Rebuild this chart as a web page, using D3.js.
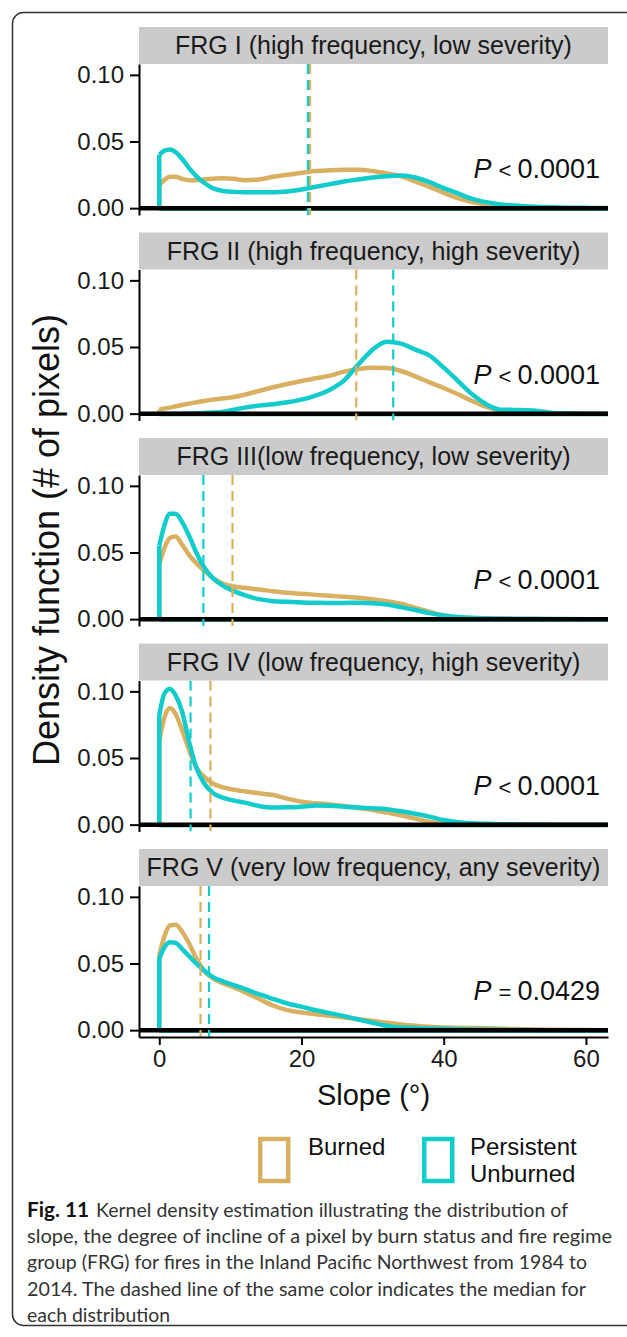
<!DOCTYPE html>
<html><head><meta charset="utf-8">
<script src="https://cdn.jsdelivr.net/npm/d3@7"></script>
<style>body{margin:0;background:#fff}svg{display:block}
.sans{font-family:"Liberation Sans","Arimo",Arial,Helvetica,sans-serif}
.cap{font-family:Lato,"Open Sans",sans-serif}</style>
</head><body><svg id="c" width="627" height="1337"></svg>
<script>
// ---------- data ----------
const slopeGrid = [0, 0.7, 1.5, 2.3, 3.2, 4.2, 5.2, 6.3, 7.5, 9, 10.5, 12, 14, 16, 18, 20, 22, 24, 26, 28, 30, 32, 34, 36, 38, 40, 42, 44, 46, 48, 50, 53, 56, 60, 63];
const panelTitles = ["FRG I (high frequency, low severity)", "FRG II (high frequency, high severity)", "FRG III(low frequency, low severity)", "FRG IV (low frequency, high severity)", "FRG V (very low frequency, any severity)"];
const burned1 = [0.0175,0.021,0.0235,0.0235,0.022,0.021,0.021,0.0215,0.022,0.0225,0.022,0.021,0.0215,0.0235,0.025,0.0265,0.0278,0.0285,0.0288,0.0288,0.0278,0.026,0.0238,0.020,0.016,0.0115,0.0075,0.0045,0.0025,0.0012,0.0006,0.0002,0.0001,0,0];
const unburned1 = [0.040,0.043,0.044,0.042,0.037,0.030,0.024,0.019,0.015,0.0128,0.0122,0.012,0.012,0.012,0.0125,0.014,0.016,0.018,0.020,0.0215,0.023,0.024,0.0245,0.023,0.0195,0.015,0.011,0.007,0.0045,0.0028,0.0019,0.001,0.0005,0.0002,0.0001];
const burned2 = [0.003,0.0038,0.0045,0.0055,0.0065,0.0075,0.0085,0.0095,0.0105,0.0115,0.0125,0.0142,0.017,0.0198,0.0222,0.0245,0.0265,0.0285,0.0315,0.0335,0.0345,0.0342,0.032,0.028,0.0235,0.0192,0.0145,0.0095,0.005,0.0022,0.0008,0.0002,0.0001,0,0];
const unburned2 = [0,0,0,0,0,0.0001,0.0002,0.0004,0.0008,0.0015,0.003,0.0045,0.006,0.007,0.0085,0.0105,0.0135,0.018,0.025,0.037,0.048,0.054,0.0525,0.048,0.0435,0.0345,0.0245,0.0145,0.007,0.003,0.0028,0.0022,0.0003,0,0];
const burned3 = [0.041,0.053,0.061,0.062,0.056,0.048,0.042,0.0365,0.031,0.0265,0.0245,0.0235,0.0222,0.021,0.0198,0.019,0.0182,0.0175,0.0168,0.016,0.015,0.0135,0.0115,0.0085,0.0055,0.0028,0.0012,0.0005,0.0002,0.0001,0,0,0,0,0];
const unburned3 = [0.055,0.07,0.079,0.079,0.073,0.0625,0.050,0.039,0.031,0.025,0.021,0.018,0.015,0.0135,0.013,0.0125,0.0123,0.0122,0.0122,0.0123,0.012,0.011,0.009,0.0068,0.0045,0.0028,0.0017,0.001,0.0007,0.0005,0.0003,0.0002,0.0001,0,0];
const burned4 = [0.063,0.08,0.0875,0.083,0.071,0.056,0.043,0.036,0.031,0.028,0.0262,0.025,0.0235,0.0222,0.0195,0.0172,0.016,0.0152,0.014,0.0125,0.011,0.009,0.007,0.0045,0.0022,0.0007,0.0002,0.0001,0,0,0,0,0,0,0];
const unburned4 = [0.082,0.098,0.102,0.097,0.085,0.062,0.043,0.031,0.024,0.020,0.018,0.0165,0.014,0.0128,0.013,0.0135,0.0143,0.0142,0.0135,0.0128,0.0122,0.0115,0.010,0.0082,0.006,0.0035,0.0018,0.001,0.0006,0.0003,0.0002,0.0001,0,0,0];
const burned5 = [0.056,0.07,0.0785,0.079,0.074,0.065,0.054,0.0445,0.039,0.035,0.032,0.0285,0.0235,0.0185,0.015,0.0133,0.012,0.0108,0.0095,0.0082,0.0069,0.0056,0.0043,0.0033,0.0025,0.002,0.0018,0.0016,0.0014,0.0011,0.0008,0.0005,0.0003,0.0001,0];
const unburned5 = [0.0535,0.062,0.066,0.0655,0.061,0.0555,0.050,0.0448,0.040,0.0365,0.0338,0.031,0.027,0.0235,0.020,0.0176,0.015,0.0128,0.0105,0.008,0.0055,0.0032,0.002,0.0016,0.0012,0.001,0.0007,0.0005,0.0003,0.0002,0.0001,0,0,0,0];
const burnedMedians = [21.2, 27.7, 10.3, 7.2, 5.8];
const unburnedMedians = [20.9, 32.9, 6.2, 4.4, 7.0];
const pOperators = ["<", "<", "<", "<", "="];
const pValues = ["0.0001", "0.0001", "0.0001", "0.0001", "0.0429"];
const yTickValues = [0, 0.05, 0.10];
const xTickValues = [0, 20, 40, 60];
const seriesNames = ["Burned", "Persistent Unburned"];
const captionLines = [
  "Kernel density estimation illustrating the distribution of",
  "slope, the degree of incline of a pixel by burn status and fire regime",
  "group (FRG) for fires in the Inland Pacific Northwest from 1984 to",
  "2014. The dashed line of the same color indicates the median for",
  "each distribution"
];

const burnedSeries = [burned1, burned2, burned3, burned4, burned5];
const unburnedSeries = [unburned1, unburned2, unburned3, unburned4, unburned5];

// ---------- styling / layout ----------
const TAN = "#D9B062", CYAN = "#12CBCB";
const L = 139, R = 608, stripTop0 = 27, step = 205.5, stripH = 37, panelH = 151;

const svg = d3.select("#c");
svg.append("rect").attr("x", 12.5).attr("y", 12.5).attr("width", 660).attr("height", 1313)
  .attr("rx", 11).attr("fill", "none").attr("stroke", "#333").attr("stroke-width", 1.5);

const x = d3.scaleLinear().domain([-2.85, 63.1]).range([L, R]);

panelTitles.forEach((title, i) => {
  const sTop = stripTop0 + i * step;
  const pTop = sTop + stripH;
  const pBot = pTop + panelH;
  const y = d3.scaleLinear().domain([-0.00515, 0.10815]).range([pBot, pTop]);
  const g = svg.append("g");

  g.append("rect").attr("x", L).attr("y", sTop).attr("width", R - L).attr("height", stripH).attr("fill", "#CBCBCB");
  g.append("text").attr("class", "sans").attr("x", (L + R) / 2).attr("y", sTop + 27).attr("text-anchor", "middle")
    .attr("font-size", 25).attr("fill", "#1a1a1a").text(title);

  const line = d3.line().x(d => x(d[0])).y(d => y(d[1])).curve(d3.curveMonotoneX);
  const clip = "clip" + i;
  g.append("clipPath").attr("id", clip).append("rect").attr("x", L).attr("y", pTop).attr("width", R - L).attr("height", panelH);
  const pg = g.append("g").attr("clip-path", `url(#${clip})`);
  [[burnedSeries[i], TAN], [unburnedSeries[i], CYAN]].forEach(([arr, col]) => {
    const pts = slopeGrid.map((s, k) => [s, arr[k]]);
    pg.append("path").attr("d", line(pts)).attr("fill", "none").attr("stroke", col)
      .attr("stroke-width", 4.5).attr("stroke-linejoin", "round");
    pg.append("path").attr("d", d3.line().x(d => x(d[0])).y(d => y(d[1]))([[0, 0], [0, arr[0]]]))
      .attr("stroke", col).attr("stroke-width", 4.5);
    pg.append("line").attr("x1", x(0)).attr("x2", x(63)).attr("y1", y(0) + 1.5).attr("y2", y(0) + 1.5)
      .attr("stroke", col).attr("stroke-width", 2);
  });
  pg.append("line").attr("x1", L).attr("x2", R).attr("y1", y(0)).attr("y2", y(0))
    .attr("stroke", "#000").attr("stroke-width", 4.5);
  [[burnedMedians[i], TAN], [unburnedMedians[i], CYAN]].forEach(([m, col]) => {
    pg.append("line").attr("x1", x(m)).attr("x2", x(m)).attr("y1", pTop).attr("y2", pBot)
      .attr("stroke", col).attr("stroke-width", 2.2).attr("stroke-dasharray", "10,6");
  });

  const ax = g.append("g").attr("transform", `translate(${L},0)`)
    .call(d3.axisLeft(y).tickValues(yTickValues).tickFormat(d3.format(".2f")).tickSize(9).tickSizeOuter(0).tickPadding(6));
  ax.select(".domain").attr("stroke", "#000").attr("stroke-width", 2);
  ax.selectAll(".tick line").attr("stroke", "#000").attr("stroke-width", 2);
  ax.selectAll(".tick text").attr("class", "sans").attr("font-size", 24).attr("fill", "#1a1a1a");

  const pt = g.append("text").attr("class", "sans").attr("x", 600).attr("y", y(0) - 30).attr("text-anchor", "end")
    .attr("font-size", 27).attr("fill", "#111");
  pt.append("tspan").attr("font-style", "italic").text("P");
  pt.append("tspan").attr("dx", 7).attr("font-size", 22).text(pOperators[i]);
  pt.append("tspan").attr("dx", 6).text(pValues[i]);

  if (i === panelTitles.length - 1) {
    const bx = g.append("g").attr("transform", `translate(0,${pBot})`)
      .call(d3.axisBottom(x).tickValues(xTickValues).tickSize(8).tickSizeOuter(0).tickPadding(5));
    bx.select(".domain").attr("stroke", "#000").attr("stroke-width", 2);
    bx.selectAll(".tick line").attr("stroke", "#000").attr("stroke-width", 2);
    bx.selectAll(".tick text").attr("class", "sans").attr("font-size", 24).attr("fill", "#1a1a1a");
  }
});
svg.selectAll("g[font-family]").attr("font-family", null);

// axis titles
svg.append("text").attr("class", "sans").attr("transform", "translate(59,540) rotate(-90)").attr("text-anchor", "middle")
  .attr("font-size", 36).attr("fill", "#111").text("Density function (# of pixels)");
svg.append("text").attr("class", "sans").attr("x", (L + R) / 2).attr("y", 1105).attr("text-anchor", "middle")
  .attr("font-size", 29).attr("fill", "#111").text("Slope (°)");

// legend
const legendX = [258, 422];
[TAN, CYAN].forEach((col, k) => {
  svg.append("rect").attr("x", legendX[k] + 2.25).attr("y", 1139).attr("width", 28).attr("height", 42)
    .attr("fill", "#fff").attr("stroke", col).attr("stroke-width", 4.5);
});
svg.append("text").attr("class", "sans").attr("x", 308).attr("y", 1155).attr("font-size", 24).attr("fill", "#111").text(seriesNames[0]);
const t2 = svg.append("text").attr("class", "sans").attr("font-size", 24).attr("fill", "#111");
seriesNames[1].split(" ").forEach((w, k) => t2.append("tspan").attr("x", 470).attr("y", 1155 + k * 27).text(w));

// caption
svg.append("text").attr("class", "cap").attr("x", 27).attr("y", 1217).attr("font-weight", "bold")
  .attr("font-size", 20).attr("fill", "#111").attr("textLength", 62).attr("lengthAdjust", "spacingAndGlyphs").text("Fig. 11");
const capStart = [96, 27, 27, 27, 27];
const capEnd = [568, 612, 587, 586, 170];
const capBase = [1217, 1243, 1269, 1296, 1322];
captionLines.forEach((s, k) => {
  svg.append("text").attr("class", "cap").attr("x", capStart[k]).attr("y", capBase[k])
    .attr("font-size", 20).attr("fill", "#333").attr("textLength", capEnd[k] - capStart[k])
    .attr("lengthAdjust", "spacingAndGlyphs").text(s);
});
</script></body></html>
